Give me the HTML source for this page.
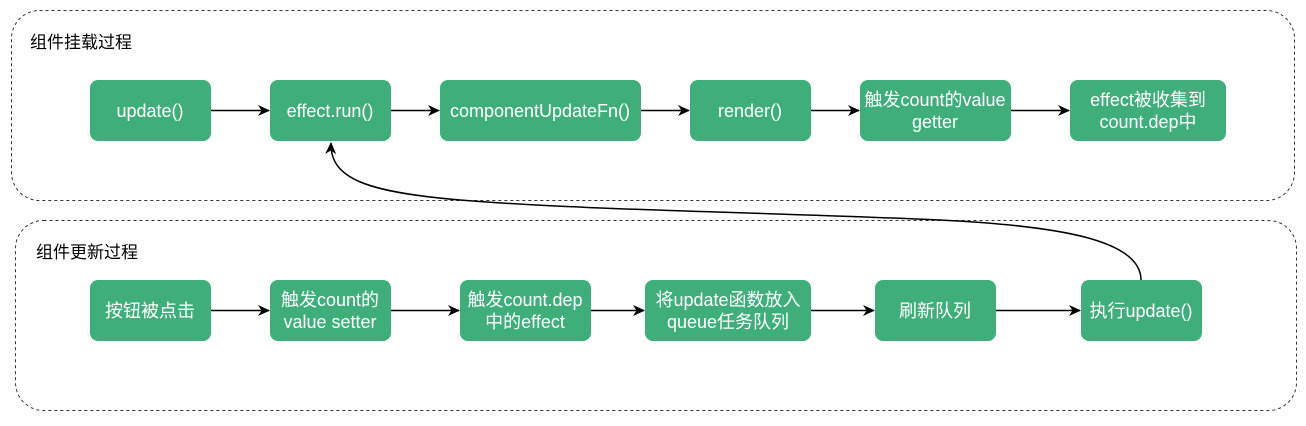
<!DOCTYPE html>
<html><head><meta charset="utf-8"><style>
body{margin:0;background:#fff;}
svg text{font-family:"Liberation Sans","Noto Sans CJK SC",sans-serif;font-size:18px;}
</style></head><body>
<svg width="1306" height="421" xmlns="http://www.w3.org/2000/svg">
<defs><marker id="a" markerWidth="12" markerHeight="12" refX="11" refY="6" orient="auto" markerUnits="userSpaceOnUse"><path d="M0,0.5 L12,6 L0,11.5 L3.5,6 Z" fill="#000"/></marker></defs>
<rect x="11.5" y="10.5" width="1283" height="190" rx="28" fill="none" stroke="#333" stroke-dasharray="3,3"/>
<rect x="15.5" y="220.5" width="1281" height="190" rx="28" fill="none" stroke="#333" stroke-dasharray="3,3"/>
<text x="30" y="48" fill="#000" style="font-size:17px">组件挂载过程</text>
<text x="36" y="258" fill="#000" style="font-size:17px">组件更新过程</text>
<g fill="#3fae7b">
<rect x="90" y="80" width="121" height="61" rx="8"/>
<rect x="270" y="80" width="121" height="61" rx="8"/>
<rect x="440" y="80" width="201" height="61" rx="8"/>
<rect x="690" y="80" width="121" height="61" rx="8"/>
<rect x="860" y="80" width="151" height="61" rx="8"/>
<rect x="1070" y="80" width="156" height="61" rx="8"/>
<rect x="90" y="280" width="121" height="61" rx="8"/>
<rect x="270" y="280" width="121" height="61" rx="8"/>
<rect x="460" y="280" width="131" height="61" rx="8"/>
<rect x="645" y="280" width="166" height="61" rx="8"/>
<rect x="875" y="280" width="121" height="61" rx="8"/>
<rect x="1081" y="280" width="121" height="61" rx="8"/>
</g>
<g fill="#fff" text-anchor="middle">
<text x="150" y="117">update()</text>
<text x="330" y="117">effect.run()</text>
<text x="540" y="117">componentUpdateFn()</text>
<text x="750" y="117">render()</text>
<text x="935" y="106">触发count的value</text>
<text x="935" y="128">getter</text>
<text x="1148" y="106">effect被收集到</text>
<text x="1148" y="128">count.dep中</text>
<text x="150" y="317">按钮被点击</text>
<text x="330" y="306">触发count的</text>
<text x="330" y="328">value setter</text>
<text x="525" y="306">触发count.dep</text>
<text x="525" y="328">中的effect</text>
<text x="728" y="306">将update函数放入</text>
<text x="728" y="328">queue任务队列</text>
<text x="935" y="317">刷新队列</text>
<text x="1141" y="317">执行update()</text>
</g>
<g stroke="#000" stroke-width="1.5" fill="none" marker-end="url(#a)">
<line x1="211" y1="110.5" x2="269" y2="110.5"/>
<line x1="391" y1="110.5" x2="439" y2="110.5"/>
<line x1="641" y1="110.5" x2="689" y2="110.5"/>
<line x1="811" y1="110.5" x2="859" y2="110.5"/>
<line x1="1011" y1="110.5" x2="1069" y2="110.5"/>
<line x1="211" y1="310.5" x2="269" y2="310.5"/>
<line x1="391" y1="310.5" x2="459" y2="310.5"/>
<line x1="591" y1="310.5" x2="644" y2="310.5"/>
<line x1="811" y1="310.5" x2="874" y2="310.5"/>
<line x1="996" y1="310.5" x2="1080" y2="310.5"/>
<path d="M1141,280 C1141,240 1060,226 940,220 C760,212 580,210 460,200 C365,192 330,178 331,143"/>
</g>
</svg>
</body></html>
